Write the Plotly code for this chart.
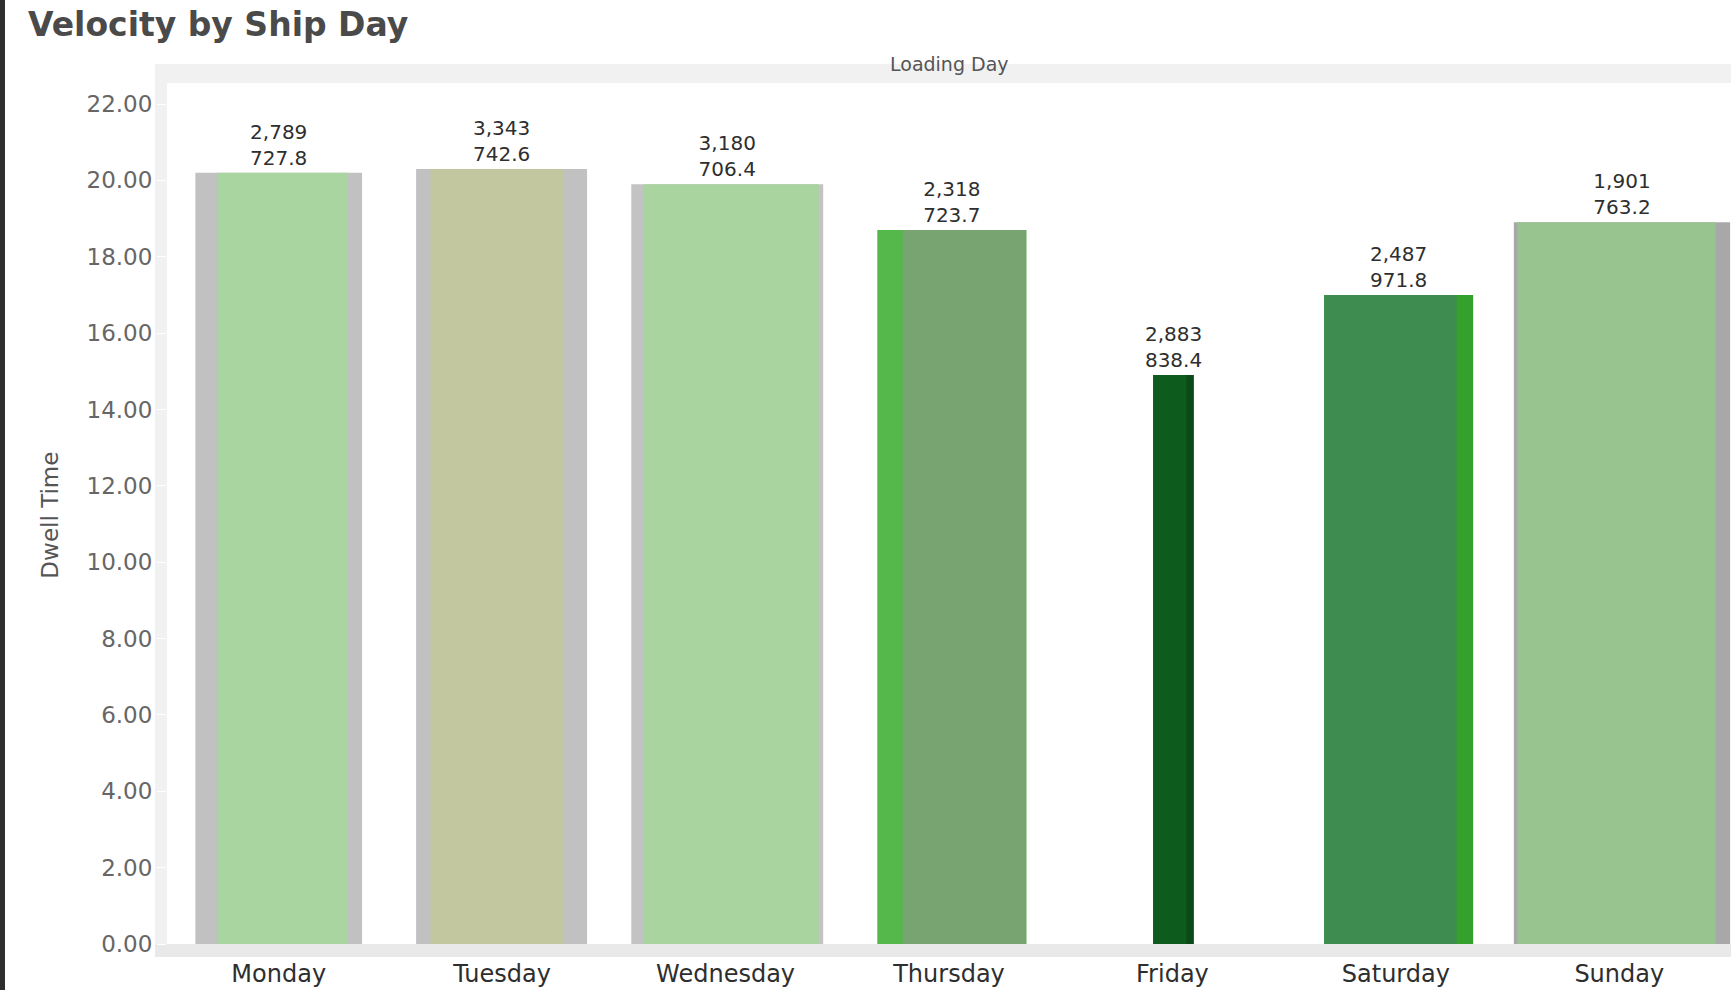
import plotly.graph_objects as go

# ---- data -------------------------------------------------------------
days = ["Monday", "Tuesday", "Wednesday", "Thursday", "Friday", "Saturday", "Sunday"]
dwell_time = [20.2, 20.3, 19.9, 18.7, 14.9, 17.0, 18.9]
load_count = [2789, 3343, 3180, 2318, 2883, 2487, 1901]
avg_weight = [727.8, 742.6, 706.4, 723.7, 838.4, 971.8, 763.2]

# ---- per-bar styling (frame bar behind, fill bar in front) ------------
frame_left = [-0.373, -0.385, -0.422, -0.321, -0.086, -0.321, -0.472]
frame_right = [0.373, 0.380, 0.437, 0.346, 0.096, 0.346, 0.496]
fill_left = [-0.274, -0.321, -0.368, -0.207, -0.086, -0.321, -0.457]
fill_right = [0.309, 0.272, 0.417, 0.346, 0.062, 0.272, 0.432]
frame_colors = ["#c1c1c1", "#c1c1c1", "#c3c3c3", "#55b84a", "#0a4a18", "#35a02b", "#a8a8a8"]
fill_colors = ["#a9d5a0", "#c2c7a0", "#a9d4a0", "#77a470", "#0d5c1e", "#3e8c4f", "#98c48f"]

FONT = "DejaVu Sans, Verdana, sans-serif"

fig = go.Figure()

fig.add_trace(go.Bar(
    x=days,
    y=dwell_time,
    offset=frame_left,
    width=[r - l for l, r in zip(frame_left, frame_right)],
    marker=dict(color=frame_colors, line=dict(width=0)),
    customdata=list(zip(load_count, avg_weight)),
    texttemplate="%{customdata[0]:,}<br>%{customdata[1]:.1f}",
    textposition="outside",
    constraintext="none",
    cliponaxis=False,
    textfont=dict(family=FONT, size=20, color="#2e2e2e"),
    hovertemplate="%{x}<br>Dwell Time: %{y:.2f}<extra></extra>",
    showlegend=False,
))

fig.add_trace(go.Bar(
    x=days,
    y=dwell_time,
    offset=fill_left,
    width=[r - l for l, r in zip(fill_left, fill_right)],
    marker=dict(color=fill_colors, line=dict(width=0)),
    hoverinfo="skip",
    showlegend=False,
))

# header / frame bands around the pane
band = "#f1f1f1"
fig.add_shape(type="rect", xref="paper", yref="paper", x0=-12 / 1564, x1=1,
              y0=1, y1=1 + 19 / 874, fillcolor=band, line_width=0, layer="below")
fig.add_shape(type="rect", xref="paper", yref="paper", x0=-12 / 1564, x1=0,
              y0=0, y1=1, fillcolor=band, line_width=0, layer="below")
fig.add_shape(type="rect", xref="paper", yref="y", x0=-12 / 1564, x1=1,
              y0=-0.34, y1=0, fillcolor="#e9e9e9", line_width=0, layer="below")
# dark window edge on the left
fig.add_shape(type="rect", xref="paper", yref="paper", x0=-167 / 1564, x1=-162 / 1564,
              y0=-33 / 874, y1=1 + 83 / 874, fillcolor="#2e2e2e", line_width=0, layer="above")

fig.add_annotation(text="Loading Day", xref="paper", yref="paper", x=0.5, y=1 + 19 / 874,
                   xanchor="center", yanchor="middle", showarrow=False,
                   font=dict(family=FONT, size=19, color="#555555"))
fig.add_annotation(text="Dwell Time", xref="paper", yref="paper", x=-117 / 1564, y=0.505,
                   xanchor="center", yanchor="middle", textangle=-90, showarrow=False,
                   font=dict(family=FONT, size=23, color="#555555"))

fig.update_layout(
    template="none",
    width=1731,
    height=990,
    autosize=False,
    barmode="overlay",
    margin=dict(l=167, r=0, t=83, b=33, pad=0),
    paper_bgcolor="white",
    plot_bgcolor="white",
    title=dict(text="<b>Velocity by Ship Day</b>", xref="container", yref="container",
               x=28 / 1731, y=1 - 24 / 990, xanchor="left", yanchor="middle",
               font=dict(family=FONT, size=33, color="#4a4a4a")),
    xaxis=dict(range=[-0.5, 6.5], showgrid=False, zeroline=False, showline=False,
               ticks="", automargin=False,
               tickfont=dict(family=FONT, size=24, color="#2e2e2e")),
    yaxis=dict(range=[-0.34, 22.55], tick0=0, dtick=2, tickformat=".2f",
               showgrid=False, zeroline=False, showline=False, automargin=False,
               ticks="outside", ticklen=9, tickcolor="white",
               tickfont=dict(family=FONT, size=23, color="#666666")),
)

fig.write_html("out.html")
